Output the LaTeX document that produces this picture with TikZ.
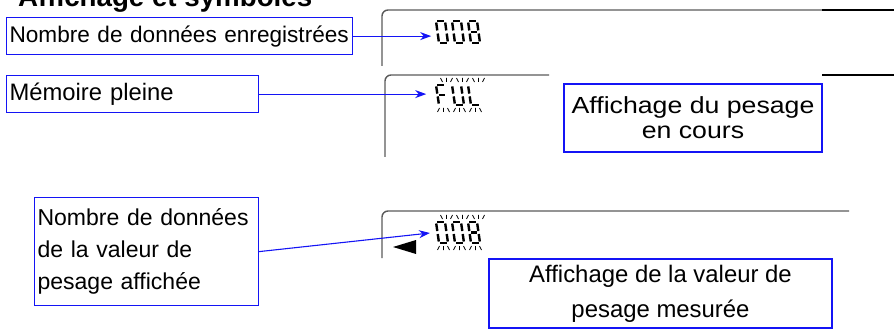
\documentclass[tikz,border=0pt]{standalone}
\usepackage{fontspec}
\setmainfont{Liberation Sans}
\newfontfamily\widesans[FakeStretch=1.145]{Liberation Sans}
\usetikzlibrary{arrows.meta,positioning}
\definecolor{bleu}{RGB}{20,20,245}
\definecolor{gris}{RGB}{90,90,90}
% segments a..g of an LCD digit (index 0..6), local units, y up
\def\lcdxa{{1.4,9,9,1.4,0,0,1.4}}
\def\lcdya{{20,18.6,8.6,0,1.4,11.4,10}}
\def\lcdxb{{7.6,9,9,7.6,0,0,7.6}}
\def\lcdyb{{20,11.4,1.4,0,8.6,18.6,10}}
\newcommand{\lcddigit}[4]{% x, bottom, height scale, segments
  \begin{scope}[shift={(#1,#2)},yscale=-#3,xslant=0.15]
    \foreach \s in {#4}
      \draw[lcdseg] ({\lcdxa[\s]},{\lcdya[\s]}) -- ({\lcdxb[\s]},{\lcdyb[\s]});
  \end{scope}}
\newcommand{\lcdblink}[2]{% top, bottom of the digits
  \foreach \cx in {446.5,462.5,478.5} {
    \draw[blink] (\cx-6,#1-7) -- (\cx-4,#1-3) (\cx,#1-7) -- (\cx,#1-3) (\cx+6,#1-7) -- (\cx+4,#1-3);
    \draw[blink] (\cx-9,#2+7) -- (\cx-7,#2+3) (\cx-3,#2+7) -- (\cx-3,#2+3) (\cx+3,#2+7) -- (\cx+1,#2+3);
  }}

\begin{document}
\begin{tikzpicture}[x=1pt, y=-1pt,
  infobox/.style={draw=bleu, line width=1.2pt, inner ysep=0pt},
  lien/.style={draw=bleu, line width=1.1pt, -{Stealth[length=11pt,width=8pt,inset=3.5pt]}},
  cadre/.style={draw=gris, line width=1.4pt, rounded corners=6pt},
  lcdseg/.style={line width=2.4pt},
  blink/.style={line width=0.8pt}]
  \useasboundingbox (0,0) rectangle (894,331);

  \node[anchor=base west, inner sep=0pt, font=\bfseries\fontsize{27.7}{30}\selectfont] (titre) at (18,7) {Affichage et symboles};

  % text boxes
  \node[infobox, anchor=north west, inner xsep=3pt, text width=340pt, minimum height=37pt, align=left,
    font=\fontsize{22.6}{28}\selectfont] (nbrec) at (6,17) {Nombre de données enregistrées};
  \node[infobox, anchor=north west, inner xsep=3pt, text width=246pt, minimum height=37pt, align=left,
    font=\fontsize{23.8}{28}\selectfont] (plein) at (6,75) {Mémoire pleine};
  \node[infobox, anchor=north west, inner xsep=3pt, text width=218pt, minimum height=108pt, align=left,
    font=\fontsize{23}{32}\selectfont] (nbaff) at (34,197) {Nombre de données\\de la valeur de\\pesage affichée};
  \node[infobox, minimum width=258pt, minimum height=68pt, align=center,
    font=\fontsize{23.3}{25}\widesans] (encours) at (693,118) {Affichage du pesage\\en cours};
  \node[infobox, minimum width=343pt, minimum height=69pt, align=center,
    font=\fontsize{23.9}{35}\selectfont] (valmes) at (660.5,293.5) {Affichage de la valeur de\\pesage mesurée};

  % displays
  \draw[cadre] (382,66) -- (382,10) -- (850,10);
  \draw[line width=1.4pt] (822,10) -- (894,10);
  \draw[cadre] (385,157) -- (385,75) -- (549,75);
  \draw[line width=1.4pt] (822,75) -- (894,75);
  \draw[cadre] (382,258) -- (382,211) -- (849,211);
  \fill (393,247) -- (416,240) -- (416,254) -- cycle;

  \foreach \x in {439,455} \lcddigit{\x}{43}{1.1}{0,1,2,3,4,5};
  \lcddigit{471}{43}{1.1}{0,1,2,3,4,5,6};
  \lcddigit{439}{105}{1}{0,4,5,6};
  \lcddigit{455}{105}{1}{1,2,3,4,5};
  \lcddigit{471}{105}{1}{3,4,5};
  \lcdblink{85}{105};
  \foreach \x in {439,455} \lcddigit{\x}{243}{1.05}{0,1,2,3,4,5};
  \lcddigit{471}{243}{1.05}{0,1,2,3,4,5,6};
  \lcdblink{222}{243};

  % connectors
  \coordinate[right=78pt of nbrec.east] (pnt1);
  \coordinate[right=167pt of plein.east] (pnt2);
  \coordinate (pnt3) at (430,233);
  \draw[lien] (nbrec.east) -- (pnt1);
  \draw[lien] (plein.east) -- (pnt2);
  \draw[lien] (nbaff.east) -- (pnt3);
\end{tikzpicture}
\end{document}
